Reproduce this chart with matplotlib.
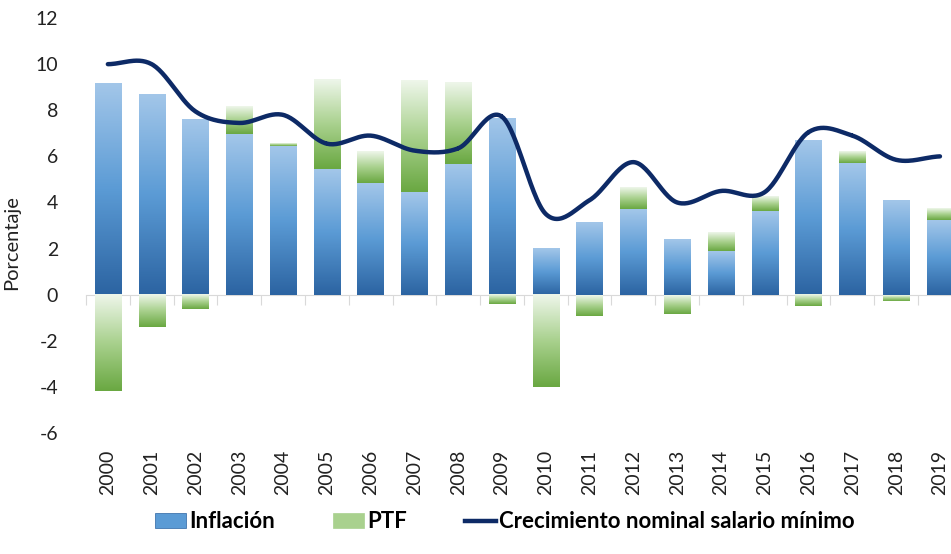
import numpy as np
import matplotlib
matplotlib.use('Agg')
import matplotlib.pyplot as plt
from matplotlib.colors import LinearSegmentedColormap
from matplotlib.patches import Patch
from matplotlib.lines import Line2D

plt.rcParams['font.family'] = ['Lato', 'DejaVu Sans']
plt.rcParams['axes.unicode_minus'] = False

years = [str(y) for y in range(2000, 2020)]
inflacion = [9.17, 8.69, 7.60, 6.95, 6.46, 5.46, 4.83, 4.45, 5.65, 7.65,
             2.00, 3.15, 3.72, 2.41, 1.89, 3.63, 6.71, 5.70, 4.08, 3.24]
ptf = [-4.18, -1.42, -0.64, 1.19, 0.10, 3.89, 1.37, 4.82, 3.53, -0.40,
       -4.02, -0.91, 0.95, -0.82, 0.81, 0.61, -0.49, 0.52, -0.26, 0.52]
salario = [10.0, 10.0, 7.95, 7.45, 7.8, 6.55, 6.9, 6.25, 6.35, 7.72,
           3.5, 4.1, 5.75, 4.0, 4.5, 4.45, 7.05, 6.9, 5.85, 6.0]

blue_cmap = LinearSegmentedColormap.from_list('b', ['#2c64a2', '#5b9bd5', '#a2c6e9'])
green_cmap = LinearSegmentedColormap.from_list('g', ['#6aa842', '#a9d18e', '#eef6ea'])

fig = plt.figure(figsize=(9.51, 5.54), dpi=100)
ax = fig.add_axes([0.0904, 0.2184, 0.921, 0.749])

x = np.arange(len(years))
width = 0.6
grad = np.linspace(0, 1, 100).reshape(-1, 1)


def grad_bar(xc, y0, y1, cmap):
    lo, hi = min(y0, y1), max(y0, y1)
    ax.imshow(grad, extent=[xc - width / 2, xc + width / 2, lo, hi], origin='lower',
              aspect='auto', cmap=cmap, zorder=2, interpolation='bilinear')


for i in x:
    grad_bar(i, 0, inflacion[i], blue_cmap)
    base = inflacion[i] if ptf[i] > 0 else 0
    grad_bar(i, base, base + ptf[i], green_cmap)

# smooth line (Catmull-Rom through the data points, like Excel's smoothed line)
ys = np.array(salario)
pts = np.concatenate([[ys[0]], ys, [ys[-1]]])
xs_s, ys_s = [], []
t = np.linspace(0, 1, 30)
for i in range(len(ys) - 1):
    p0, p1, p2, p3 = pts[i], pts[i + 1], pts[i + 2], pts[i + 3]
    seg = 0.5 * ((2 * p1) + (-p0 + p2) * t + (2 * p0 - 5 * p1 + 4 * p2 - p3) * t ** 2
                 + (-p0 + 3 * p1 - 3 * p2 + p3) * t ** 3)
    xs_s.extend(i + t)
    ys_s.extend(seg)
ax.plot(xs_s, ys_s, color='#0d2a66', lw=3.2, zorder=4, solid_capstyle='round')

ax.set_xlim(-0.5, len(years) - 0.5)
ax.set_ylim(-6, 12)
ax.set_yticks(range(-6, 13, 2))
ax.tick_params(axis='y', length=0, labelsize=14, labelcolor='#222222', pad=20)
ax.set_ylabel('Porcentaje', fontsize=14.5, color='#222222')
ax.yaxis.set_label_coords(-0.075, 0.46)

for s in ['top', 'right', 'left']:
    ax.spines[s].set_visible(False)
ax.spines['bottom'].set_position(('data', 0))
ax.spines['bottom'].set_color('#d9d9d9')
ax.spines['bottom'].set_zorder(1)
ax.set_xticks(np.arange(-0.5, len(years), 1))
ax.set_xticklabels([])
ax.tick_params(axis='x', length=7, color='#d9d9d9', direction='out')

sec = ax.secondary_xaxis(0)
sec.set_xticks(x)
sec.set_xticklabels(years, rotation=90, fontsize=14, color='#222222')
sec.tick_params(length=0, pad=12)
sec.spines['bottom'].set_visible(False)

handles = [Patch(facecolor='#5b9bd5', edgecolor='#2c64a2', lw=0.5),
           Patch(facecolor='#a9d18e', edgecolor='#a9d18e', lw=0.5),
           Line2D([0], [0], color='#0d2a66', lw=3.2)]
fig.legend(handles, ['Inflación', 'PTF', 'Crecimiento nominal salario mínimo'],
           loc='center', bbox_to_anchor=(0.531, 0.058), ncol=3, frameon=False,
           prop={'size': 16, 'weight': 'bold'}, handlelength=1.4, handletextpad=0.15,
           columnspacing=2.6)

fig.savefig('out.png', dpi=100)
